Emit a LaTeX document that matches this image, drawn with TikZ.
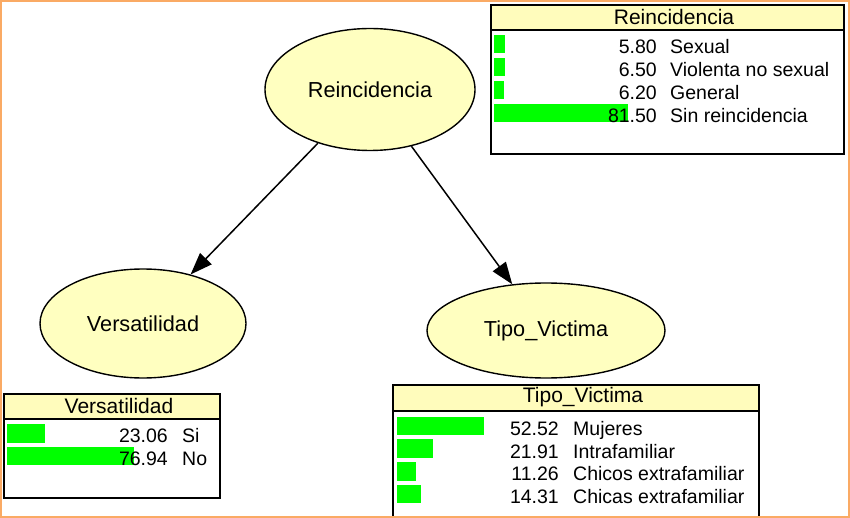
\documentclass[tikz,border=0pt]{standalone}
\usepackage{fontspec}
\setmainfont{Liberation Sans}
\usetikzlibrary{arrows.meta,shapes.geometric}
\definecolor{framec}{RGB}{250,170,100}
\definecolor{nodefill}{RGB}{255,255,192}
\definecolor{titlefill}{RGB}{255,252,188}
\definecolor{barc}{RGB}{0,255,0}
\begin{document}
\begin{tikzpicture}[x=1pt,y=-1pt,
  varnode/.style={ellipse, draw=black, line width=1.4pt, fill=nodefill, inner sep=0pt, font=\fontsize{21.7}{24}\selectfont},
  link/.style={line width=1.5pt, -{Triangle[length=22pt,width=16pt]}},
  monbox/.style={draw=black, line width=2pt, fill=white, rectangle, inner sep=0pt, anchor=north west},
  montitle/.style={draw=black, line width=2pt, fill=titlefill, rectangle, anchor=north west, inner sep=0pt},
  ttext/.style={font=\fontsize{21}{24}\selectfont, inner sep=0pt},
  num/.style={anchor=base east, inner sep=0pt, font=\fontsize{19.5}{22}\selectfont},
  lab/.style={anchor=base west, inner sep=0pt, font=\fontsize{19.5}{22}\selectfont},
  bar/.style={fill=barc, draw=none},
]
\useasboundingbox (0,0) rectangle (850,518);
\fill[white] (0,0) rectangle (850,518);

% ---------- ellipses ----------
\node[varnode, minimum width=210pt, minimum height=122pt] (R) at (370,89.5) {Reincidencia};
\node[varnode, minimum width=206pt, minimum height=109pt] (V) at (143,323.5) {Versatilidad};
\node[varnode, minimum width=238pt, minimum height=95pt] (T) at (546,330.5) {Tipo\_Victima};
\draw[link] (R) -- (V);
\draw[link] (R) -- (T);

% ---------- monitor: Reincidencia ----------
\node[monbox, minimum width=353pt, minimum height=149pt] (mR) at (490,4) {};
\node[montitle, minimum width=353pt, minimum height=25pt] (mRt) at (490,4) {};
\node[ttext] (mRtt) at (674,16.5) {Reincidencia};
\fill[bar] (494,34.75) rectangle ++(10.5,18.5);
\fill[bar] (494,57.75) rectangle ++(10.7,18.5);
\fill[bar] (494,80.75) rectangle ++(10.2,18.5);
\fill[bar] (494,103.75) rectangle ++(134,18.5);
\node[num] (rn1) at (657,53.5) {5.80};
\node[lab] (rl1) at (670,53.5) {Sexual};
\node[num] (rn2) at (657,76.5) {6.50};
\node[lab] (rl2) at (670,76.5) {Violenta no sexual};
\node[num] (rn3) at (657,99.5) {6.20};
\node[lab] (rl3) at (670,99.5) {General};
\node[num] (rn4) at (657,122.5) {81.50};
\node[lab] (rl4) at (670,122.5) {Sin reincidencia};

% ---------- monitor: Versatilidad ----------
\node[monbox, minimum width=216pt, minimum height=104pt] (mV) at (3,393) {};
\node[montitle, minimum width=216pt, minimum height=25pt] (mVt) at (3,393) {};
\node[ttext] (mVtt) at (119,405.5) {Versatilidad};
\fill[bar] (7,424.05) rectangle ++(37.9,18.5);
\fill[bar] (7,446.75) rectangle ++(126.6,18.5);
\node[num] (vn1) at (168,442.8) {23.06};
\node[lab] (vl1) at (182,442.8) {Si};
\node[num] (vn2) at (168,465.5) {76.94};
\node[lab] (vl2) at (182,465.5) {No};

% ---------- monitor: Tipo_Victima ----------
\node[monbox, minimum width=366pt, minimum height=145pt] (mT) at (392,384) {};
\node[montitle, minimum width=366pt, minimum height=26pt] (mTt) at (392,384) {};
\node[ttext] (mTtt) at (583,397) {Tipo\_Victima};
\fill[bar] (397,416.75) rectangle ++(86.7,18.5);
\fill[bar] (397,439.45) rectangle ++(36.2,18.5);
\fill[bar] (397,462.05) rectangle ++(18.6,18.5);
\fill[bar] (397,484.75) rectangle ++(23.6,18.5);
\node[num] (tn1) at (559,435.5) {52.52};
\node[lab] (tl1) at (573,435.5) {Mujeres};
\node[num] (tn2) at (559,458.2) {21.91};
\node[lab] (tl2) at (573,458.2) {Intrafamiliar};
\node[num] (tn3) at (559,480.8) {11.26};
\node[lab] (tl3) at (573,480.8) {Chicos extrafamiliar};
\node[num] (tn4) at (559,503.5) {14.31};
\node[lab] (tl4) at (573,503.5) {Chicas extrafamiliar};

% ---------- outer frame ----------
\draw[framec, line width=1.6pt] (0.8,0.8) rectangle (849.2,516.8);
\end{tikzpicture}
\end{document}
